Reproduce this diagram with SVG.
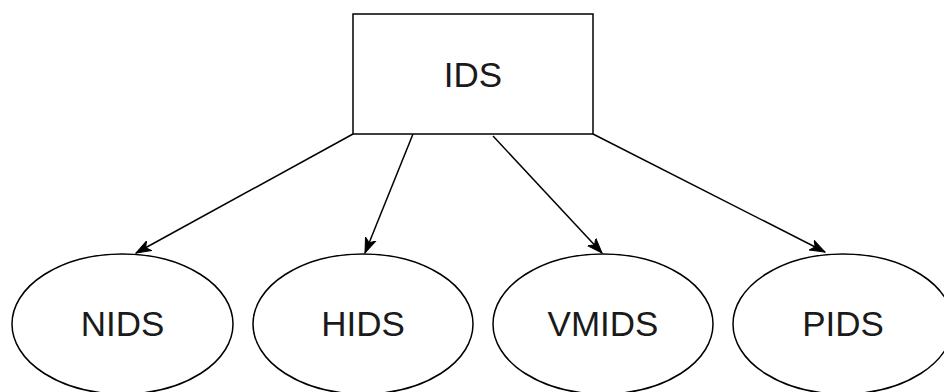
<svg xmlns="http://www.w3.org/2000/svg" width="944" height="392" viewBox="0 0 944 392">
<style>
.shape{fill:#fff;stroke:#000;stroke-width:1.5}
.label{font-family:"Liberation Sans",Arial,sans-serif;font-size:35px;fill:#1a1a1a;text-anchor:middle}
.edge{fill:none;stroke:#000;stroke-width:1.5}
</style>
<defs>
<marker id="arrow" markerUnits="userSpaceOnUse" markerWidth="16" markerHeight="14" refX="15" refY="7" orient="auto">
<path d="M0,1.5 L15,7 L0,12.5 L4,7 Z" fill="#000" stroke="#000" stroke-width="1"/>
</marker>
</defs>
<g id="connectors">
<line class="edge" x1="353" y1="134" x2="136" y2="253" marker-end="url(#arrow)"/>
<line class="edge" x1="413" y1="134" x2="365" y2="253" marker-end="url(#arrow)"/>
<line class="edge" x1="493" y1="136" x2="602" y2="253" marker-end="url(#arrow)"/>
<line class="edge" x1="593" y1="134" x2="825" y2="252" marker-end="url(#arrow)"/>
</g>
<g id="node-ids">
<rect class="shape" x="353" y="14" width="240" height="120"/>
<text class="label" x="473" y="87">IDS</text>
</g>
<g id="node-nids">
<ellipse class="shape" cx="122.5" cy="324" rx="110.5" ry="70"/>
<text class="label" x="122.5" y="336">NIDS</text>
</g>
<g id="node-hids">
<ellipse class="shape" cx="363" cy="324" rx="110" ry="70"/>
<text class="label" x="363" y="336">HIDS</text>
</g>
<g id="node-vmids">
<ellipse class="shape" cx="603" cy="324" rx="110" ry="70"/>
<text class="label" x="603" y="336">VMIDS</text>
</g>
<g id="node-pids">
<ellipse class="shape" cx="843" cy="324" rx="110" ry="70"/>
<text class="label" x="843" y="336">PIDS</text>
</g>
</svg>
